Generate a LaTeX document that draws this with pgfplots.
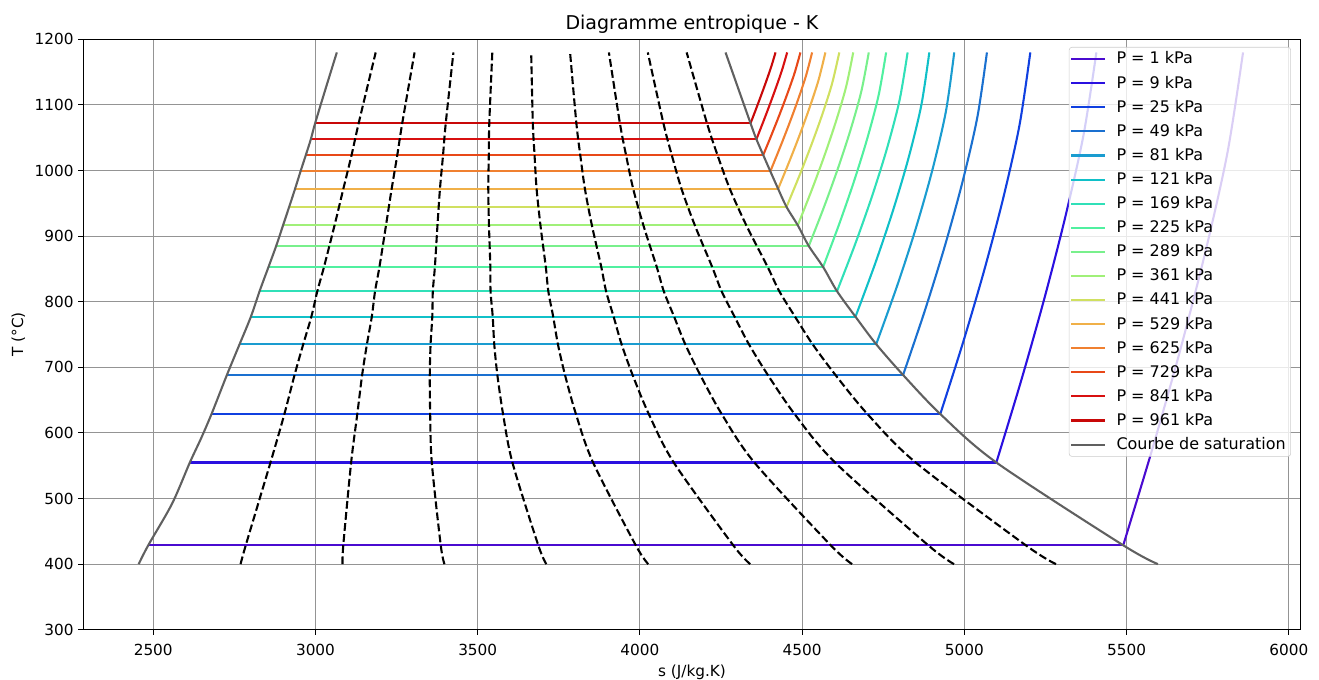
\documentclass[border=0pt]{standalone}
\usepackage{pgfplots}
\pgfplotsset{compat=1.18}
\usepackage{fontspec}
\setmainfont{DejaVu Sans}
\definecolor{cA}{HTML}{4A0BD0}
\definecolor{cB}{HTML}{2A10E0}
\definecolor{cC}{HTML}{1040E0}
\definecolor{cD}{HTML}{1A70D0}
\definecolor{cE}{HTML}{1A9CD0}
\definecolor{cF}{HTML}{10C0C8}
\definecolor{cG}{HTML}{30E0B8}
\definecolor{cH}{HTML}{50F0A0}
\definecolor{cI}{HTML}{78F08C}
\definecolor{cJ}{HTML}{A0F078}
\definecolor{cK}{HTML}{D0E060}
\definecolor{cL}{HTML}{F0B048}
\definecolor{cM}{HTML}{F08030}
\definecolor{cN}{HTML}{E84818}
\definecolor{cO}{HTML}{D81010}
\definecolor{cP}{HTML}{C80808}
\definecolor{satgray}{HTML}{606060}
\begin{document}
\begin{tikzpicture}
\useasboundingbox (0,0) rectangle (949.7pt,489.6pt);
\begin{axis}[
  at={(60pt,36.2pt)}, anchor=south west,
  scale only axis, width=876.5pt, height=425.1pt,
  xmin=2284.5, xmax=6036.5, ymin=300, ymax=1200,
  xtick={2500,3000,...,6000}, ytick={300,400,...,1200},
  tick pos=left,
  grid=major, grid style={color=black!42, line width=0.8pt},
  axis line style={line width=0.8pt},
  tick style={black, line width=0.8pt}, tick align=outside, major tick length=3.5pt,
  tick label style={font=\fontsize{11}{13}\selectfont},
  xticklabel style={yshift=-3.2pt},
  /pgf/number format/assume math mode=true,
  /pgf/number format/1000 sep={},
  xlabel={s (J/kg.K)}, ylabel={T (°C)},
  label style={font=\fontsize{11}{13}\selectfont},
  title={Diagramme entropique - K},
  title style={font=\fontsize{13.7}{16}\selectfont, yshift=-5pt},
  legend cell align=left,
  legend style={at={(rel axis cs:0.992,0.987)}, anchor=north east,
    font=\fontsize{11.5}{13}\selectfont, draw=black!20, rounded corners=2pt,
    fill=white, fill opacity=0.8, text opacity=1, row sep=2.35pt,
    inner xsep=0.6pt, inner ysep=1pt,
    nodes={inner sep=3pt, text height=8pt, text depth=1pt}},
  legend image code/.code={\draw[line width=1.5pt] (0pt,0pt) -- (24.5pt,0pt); \path (29pt,0pt);},
  every axis plot/.append style={line width=1.5pt},
]
% isobars: horizontal two-phase segment, then superheated vapour curve
\addplot[cA] coordinates {(2484.6,428.7) (5489.6,428.7)};
\addlegendentry{P = 1 kPa}
\addplot[cA, smooth, forget plot] coordinates {(5489.6,428.7) (5581.3,578.96) (5666.8,729.22) (5744.5,879.48) (5811.8,1029.74) (5858.8,1180)};
\addplot[cB] coordinates {(2612.8,554.9) (5098.5,554.9)};
\addlegendentry{P = 9 kPa}
\addplot[cB, smooth, forget plot] coordinates {(5098.5,554.9) (5175.1,679.9) (5246.5,804.9) (5311.4,929.96) (5367.5,1054.98) (5406.8,1180)};
\addplot[cC] coordinates {(2679.6,628.8) (4925.8,628.8)};
\addlegendentry{P = 25 kPa}
\addplot[cC, smooth, forget plot] coordinates {(4925.8,628.8) (4996.6,739.04) (5061.9,849.28) (5120.5,959.52) (5170.1,1069.76) (5203.2,1180)};
\addplot[cD] coordinates {(2727.0,688.3) (4811.1,688.3)};
\addlegendentry{P = 49 kPa}
\addplot[cD, smooth, forget plot] coordinates {(4811.1,688.3) (4878.3,786.64) (4939.8,884.98) (4994.5,983.32) (5040.1,1081.66) (5069.5,1180)};
\addplot[cE] coordinates {(2766.1,735.2) (4728.2,735.2)};
\addlegendentry{P = 81 kPa}
\addplot[cE, smooth, forget plot] coordinates {(4728.2,735.2) (4792.7,824.16) (4851.1,913.12) (4902.0,1002.08) (4943.4,1091.04) (4968.7,1180)};
\addplot[cF] coordinates {(2800.9,777.1) (4664.4,777.1)};
\addlegendentry{P = 121 kPa}
\addplot[cF, smooth, forget plot] coordinates {(4664.4,777.1) (4724.7,857.68) (4779.5,938.26) (4827.7,1018.84) (4867.2,1099.42) (4891.9,1180)};
\addplot[cG] coordinates {(2827.7,816) (4607.5,816)};
\addlegendentry{P = 169 kPa}
\addplot[cG, smooth, forget plot] coordinates {(4607.5,816) (4664.1,888.8) (4715.9,961.6) (4761.9,1034.4) (4800.2,1107.2) (4825.0,1180)};
\addplot[cH] coordinates {(2855.2,852.9) (4564.6,852.9)};
\addlegendentry{P = 225 kPa}
\addplot[cH, smooth, forget plot] coordinates {(4564.6,852.9) (4614.1,918.32) (4659.9,983.74) (4700.9,1049.16) (4735.6,1114.58) (4758.8,1180)};
\addplot[cI] coordinates {(2878.8,884.9) (4520.4,884.9)};
\addlegendentry{P = 289 kPa}
\addplot[cI, smooth, forget plot] coordinates {(4520.4,884.9) (4567.0,943.92) (4610.1,1002.94) (4649.1,1061.96) (4682.5,1120.98) (4705.3,1180)};
\addplot[cJ] coordinates {(2900.1,916.5) (4486.5,916.5)};
\addlegendentry{P = 361 kPa}
\addplot[cJ, smooth, forget plot] coordinates {(4486.5,916.5) (4528.7,969.2) (4568.1,1021.9) (4604.0,1074.6) (4635.3,1127.3) (4657.4,1180)};
\addplot[cK] coordinates {(2918.9,944.5) (4451.8,944.5)};
\addlegendentry{P = 441 kPa}
\addplot[cK, smooth, forget plot] coordinates {(4451.8,944.5) (4491.1,991.6) (4528.1,1038.7) (4562.3,1085.8) (4592.4,1132.9) (4614.5,1180)};
\addplot[cL] coordinates {(2937.1,972.1) (4425.9,972.1)};
\addlegendentry{P = 529 kPa}
\addplot[cL, smooth, forget plot] coordinates {(4425.9,972.1) (4460.4,1013.68) (4493.1,1055.26) (4523.5,1096.84) (4550.8,1138.42) (4571.6,1180)};
\addplot[cM] coordinates {(2954.0,998.8) (4401.9,998.8)};
\addlegendentry{P = 625 kPa}
\addplot[cM, smooth, forget plot] coordinates {(4401.9,998.8) (4431.7,1035.04) (4460.2,1071.28) (4487.0,1107.52) (4511.4,1143.76) (4530.7,1180)};
\addplot[cN] coordinates {(2970.3,1023.6) (4380.0,1023.6)};
\addlegendentry{P = 729 kPa}
\addplot[cN, smooth, forget plot] coordinates {(4380.0,1023.6) (4406.0,1054.88) (4431.0,1086.16) (4454.7,1117.44) (4476.7,1148.72) (4494.7,1180)};
\addplot[cO] coordinates {(2985.7,1047.7) (4359.0,1047.7)};
\addlegendentry{P = 841 kPa}
\addplot[cO, smooth, forget plot] coordinates {(4359.0,1047.7) (4380.0,1074.16) (4400.3,1100.62) (4419.8,1127.08) (4438.2,1153.54) (4453.8,1180)};
\addplot[cP] coordinates {(2998.9,1072) (4340.9,1072)};
\addlegendentry{P = 961 kPa}
\addplot[cP, smooth, forget plot] coordinates {(4340.9,1072) (4357.7,1093.6) (4374.0,1115.2) (4389.8,1136.8) (4404.8,1158.4) (4417.9,1180)};
% saturation curve
\addplot[satgray, smooth] coordinates {(2455.1,400) (2484.6,428.7) (2557.9,492) (2612.8,554.9) (2647.7,592) (2679.6,628.8) (2727.0,688.3) (2766.1,735.2) (2800.9,777.1) (2827.7,816) (2855.2,852.9) (2878.8,884.9) (2900.1,916.5) (2918.9,944.5) (2937.1,972.1) (2954.0,998.8) (2970.3,1023.6) (2985.7,1047.7) (2998.9,1072) (3032.0,1126) (3065.8,1180)};
\addlegendentry{Courbe de saturation}
\addplot[satgray, smooth, forget plot] coordinates {(4263.8,1180) (4340.9,1072) (4359.0,1047.7) (4380.0,1023.6) (4401.9,998.8) (4425.9,972.1) (4451.8,944.5) (4486.5,916.5) (4520.4,884.9) (4564.6,852.9) (4607.5,816) (4664.4,777.1) (4728.2,735.2) (4811.1,688.3) (4925.8,628.8) (5098.5,554.9) (5489.6,428.7) (5596.4,400)};
% constant quality lines x = 0.1 ... 0.9
\pgfplotsset{qual/.style={black, smooth, dash pattern=on 5.6pt off 2.4pt, forget plot}}
\addplot[qual] coordinates {(2769.2,400) (2785.1,428.7) (2861.3,554.9) (2904.2,628.8) (2935.5,688.3) (2962.3,735.2) (2987.3,777.1) (3005.7,816) (3026.2,852.9) (3058.8,916.5) (3085.9,972.1) (3111.3,1023.6) (3133.1,1072) (3185.6,1180)};
\addplot[qual] coordinates {(3083.4,400) (3085.7,428.7) (3109.9,554.9) (3128.9,628.8) (3143.8,688.3) (3158.6,735.2) (3173.6,777.1) (3183.6,816) (3197.1,852.9) (3217.4,916.5) (3234.8,972.1) (3252.2,1023.6) (3267.4,1072) (3305.4,1180)};
\addplot[qual] coordinates {(3397.5,400) (3386.1,428.7) (3358.5,554.9) (3353.5,628.8) (3352.3,688.3) (3354.8,735.2) (3360.0,777.1) (3361.7,816) (3368.0,852.9) (3376.0,916.5) (3383.7,972.1) (3393.2,1023.6) (3401.5,1072) (3425.2,1180)};
\addplot[qual] coordinates {(3711.6,400) (3686.7,428.7) (3607.0,554.9) (3578.1,628.8) (3560.6,688.3) (3551.0,735.2) (3546.3,777.1) (3539.6,816) (3539.0,852.9) (3534.7,916.5) (3532.6,972.1) (3534.2,1023.6) (3535.7,1072) (3545.0,1180)};
\addplot[qual] coordinates {(4025.7,400) (3987.1,428.7) (3855.6,554.9) (3802.7,628.8) (3769.1,688.3) (3747.2,735.2) (3732.7,777.1) (3717.6,816) (3709.9,852.9) (3693.4,916.5) (3681.5,972.1) (3675.2,1023.6) (3669.9,1072) (3664.8,1180)};
\addplot[qual] coordinates {(4339.9,400) (4287.6,428.7) (4104.2,554.9) (4027.3,628.8) (3977.4,688.3) (3943.4,735.2) (3919.0,777.1) (3895.6,816) (3880.9,852.9) (3851.9,916.5) (3830.4,972.1) (3816.1,1023.6) (3804.1,1072) (3784.7,1180)};
\addplot[qual] coordinates {(4654.0,400) (4588.1,428.7) (4352.7,554.9) (4252.0,628.8) (4185.9,688.3) (4139.6,735.2) (4105.4,777.1) (4073.5,816) (4051.8,852.9) (4010.6,916.5) (3979.2,972.1) (3957.1,1023.6) (3938.3,1072) (3904.4,1180)};
\addplot[qual] coordinates {(4968.1,400) (4888.6,428.7) (4601.3,554.9) (4476.6,628.8) (4394.3,688.3) (4335.8,735.2) (4291.7,777.1) (4251.6,816) (4222.7,852.9) (4169.2,916.5) (4128.1,972.1) (4098.1,1023.6) (4072.4,1072) (4024.2,1180)};
\addplot[qual] coordinates {(5282.3,400) (5189.2,428.7) (4849.9,554.9) (4701.2,628.8) (4602.7,688.3) (4532.1,735.2) (4478.1,777.1) (4429.5,816) (4393.7,852.9) (4327.8,916.5) (4277.0,972.1) (4239.0,1023.6) (4206.7,1072) (4144.0,1180)};
\end{axis}
\end{tikzpicture}
\end{document}
